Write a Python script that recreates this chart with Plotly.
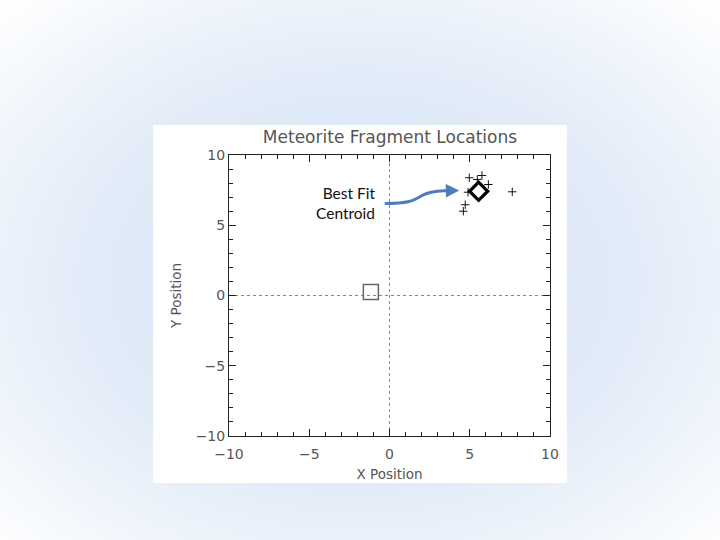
import base64
import plotly.graph_objects as go

# ---- data ----
frag_x = [4.97, 5.76, 5.47, 6.16, 4.89, 7.65, 4.72, 4.60]
frag_y = [8.38, 8.54, 8.26, 7.90, 7.35, 7.38, 6.46, 6.00]
centroid_x = [5.55]
centroid_y = [7.42]
origin_x = [-1.16]
origin_y = [0.25]
tick_vals = [-10, -5, 0, 5, 10]
axis_range = [-10, 10]
title_text = "Meteorite Fragment Locations"
x_title = "X Position"
y_title = "Y Position"
note_text = "Best Fit<br>Centroid"

W, H = 720, 540
L, R, T, B = 229, 170, 155, 104
pw, ph = W - L - R, H - T - B

svg = (
    f'<svg xmlns="http://www.w3.org/2000/svg" width="{W}" height="{H}" viewBox="0 0 {W} {H}" preserveAspectRatio="none">'
    '<defs><radialGradient id="g" cx="50%" cy="52%" r="72%">'
    '<stop offset="0" stop-color="#d3e2f4"/>'
    '<stop offset="0.55" stop-color="#e3ecf8"/>'
    '<stop offset="1" stop-color="#ffffff"/>'
    '</radialGradient></defs>'
    f'<rect width="{W}" height="{H}" fill="url(#g)"/></svg>'
)
src = "data:image/svg+xml;base64," + base64.b64encode(svg.encode()).decode()

def px2paper_x(p):
    return (p - L) / pw

def px2paper_y(p):
    return 1 - (p - T) / ph

fig = go.Figure()

fig.add_trace(go.Scatter(
    x=origin_x, y=origin_y, mode="markers",
    marker=dict(symbol="square-open", size=15, color="#666666", line=dict(width=1.5)),
    showlegend=False, hoverinfo="skip"))
fig.add_trace(go.Scatter(
    x=frag_x, y=frag_y, mode="markers",
    marker=dict(symbol="cross-thin", size=6, color="#111111", line=dict(width=1, color="#111111")),
    showlegend=False, hoverinfo="skip"))
fig.add_trace(go.Scatter(
    x=centroid_x, y=centroid_y, mode="markers",
    marker=dict(symbol="diamond-open", size=14, color="#000000", line=dict(width=3.2, color="#000000")),
    showlegend=False, hoverinfo="skip"))

tick_font = dict(family="DejaVu Sans", size=14, color="#555555")
axis_common = dict(
    range=axis_range, tickvals=tick_vals, showgrid=False, zeroline=False,
    showline=True, linecolor="#222222", linewidth=1, mirror="ticks",
    ticks="inside", ticklen=7, tickcolor="#222222", tickwidth=1,
    minor=dict(dtick=1, ticks="inside", ticklen=4, tickcolor="#222222", tickwidth=1),
    tickfont=tick_font,
)

fig.update_layout(
    width=W, height=H,
    margin=dict(l=L, r=R, t=T, b=B, autoexpand=False),
    paper_bgcolor="white", plot_bgcolor="rgba(0,0,0,0)",
    title=dict(text=title_text, x=(390) / W, xanchor="center", xref="container",
               y=1 - 137 / H, yanchor="middle", yref="container",
               font=dict(family="DejaVu Sans", size=17, color="#555555")),
    xaxis=dict(**axis_common, ticklabelstandoff=5,
               title=dict(text=x_title, standoff=8,
                          font=dict(family="DejaVu Sans", size=13.5, color="#555555"))),
    yaxis=dict(**axis_common, title=dict(text=y_title, standoff=10,
               font=dict(family="DejaVu Sans", size=13.5, color="#555555"))),
    images=[dict(source=src, xref="paper", yref="paper",
                 x=px2paper_x(0), y=px2paper_y(0), sizex=W / pw, sizey=H / ph,
                 xanchor="left", yanchor="top", sizing="stretch", layer="below")],
    showlegend=False,
)

# white chart panel
fig.add_shape(type="rect", xref="paper", yref="paper",
              x0=px2paper_x(153), x1=px2paper_x(567), y0=px2paper_y(483), y1=px2paper_y(125),
              fillcolor="white", line=dict(width=0), layer="below")
# dotted zero lines
fig.add_shape(type="line", xref="x", yref="paper", x0=0, x1=0, y0=0, y1=1,
              line=dict(color="#888888", width=1, dash="dot"), layer="below")
fig.add_shape(type="line", xref="paper", yref="y", x0=0, x1=1, y0=0, y1=0,
              line=dict(color="#888888", width=1, dash="dot"), layer="below")

# curved callout arrow
blue = "#4f7dbb"
fig.add_shape(type="path", xref="x", yref="y",
              path="M -0.3,6.55 C 1.2,6.55 1.5,6.75 2.0,7.1 C 2.4,7.35 2.8,7.42 3.4,7.45",
              line=dict(color=blue, width=3))
fig.add_annotation(x=4.35, y=7.47, ax=3.3, ay=7.45, axref="x", ayref="y", xref="x", yref="y",
                   showarrow=True, arrowhead=2, arrowsize=0.9, arrowwidth=3, arrowcolor=blue, text="")
fig.add_annotation(x=px2paper_x(377), y=px2paper_y(203), xref="paper", yref="paper",
                   text=note_text, showarrow=False, xanchor="right", yanchor="middle", align="right",
                   font=dict(family="Lato", size=15.5, color="#111111"))

fig.write_html("out.html", config={"displayModeBar": False},
               post_script="document.body.style.margin='0';")
